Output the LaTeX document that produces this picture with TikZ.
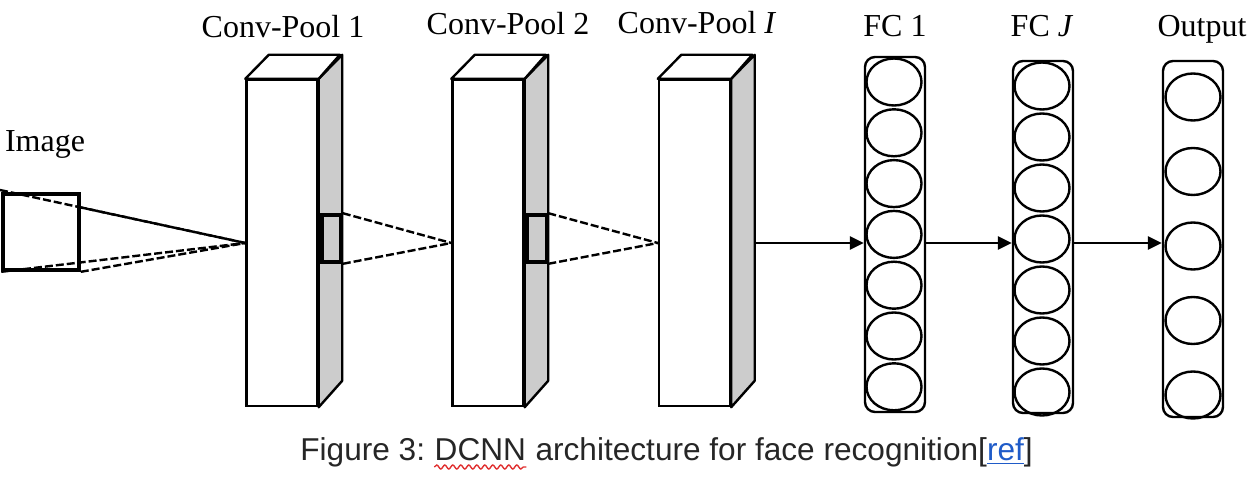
\documentclass[tikz,border=0pt]{standalone}
\usepackage{fontspec}
\setmainfont{Liberation Serif}
\newfontfamily\capfont{Liberation Sans}
\usetikzlibrary{positioning,calc,arrows.meta,shapes.geometric,decorations.pathmorphing}

\definecolor{capgray}{HTML}{262626}
\definecolor{linkblue}{HTML}{1F5BC8}
\definecolor{spellred}{HTML}{E03030}

\tikzset{
  face/.style={draw,line width=1.2pt,fill=white,minimum width=35.5pt,minimum height=163pt,inner sep=0pt},
  sideface/.style={draw,line width=1.2pt,fill=gray!40,line join=round},
  topface/.style={draw,line width=1.2pt,fill=white,line join=round},
  patch/.style={draw,line width=1.8pt,fill=gray!40,minimum width=9.5pt,minimum height=23.5pt,inner sep=0pt},
  imgbox/.style={draw,line width=1.8pt,minimum size=38pt,inner sep=0pt},
  rf/.style={line width=1.2pt,dash pattern=on 4pt off 1.5pt},%receptive field lines
  layer/.style={draw,line width=1.2pt,rounded corners=5pt,minimum width=30pt,inner sep=0pt},
  neuron/.style={ellipse,draw,line width=1.2pt,minimum width=27.5pt,minimum height=23.5pt,inner sep=0pt},
  conn/.style={line width=1.2pt,-{Triangle[length=7pt,width=6.5pt]}},
  lab/.style={font=\fontsize{16}{19}\selectfont,inner sep=0pt,anchor=base},
  captext/.style={font=\capfont\fontsize{15.8}{18}\selectfont,text=capgray,inner sep=0pt,anchor=base west}
}

\begin{document}
\begin{tikzpicture}[x=0.5pt,y=-0.5pt]
\useasboundingbox (0,0) rectangle (1258,486);

% input image
\node[imgbox] (img) at (41,232) {};
\node[lab] (img-lab) at (45,152) {Image};
\coordinate (img-tl) at (0,190);
\coordinate (img-tr) at (79,207);

% conv-pool blocks
\foreach \n/\x/\lx/\ly/\t in {cp1/282/283/38/{Conv-Pool 1},cp2/488/508/35/{Conv-Pool 2},cp3/694.5/697/34/{Conv-Pool \textit{I}}}{
  \node[face] (\n) at (\x,243) {};
  \draw[sideface] (\n.north east) -- ++(23.5,-24) -- ++(0,326) -- (\n.south east) -- cycle;
  \draw[topface] (\n.north west) -- ++(23.5,-24) -- ++(71,0) -- (\n.north east) -- cycle;
  \coordinate (\n-out) at ($(\n.east)+(23.5,0)$);
  \node[lab] (\n-lab) at (\lx,\ly) {\t};
}

% receptive fields
\node[patch] (p1) at (331.5,238.5) {};
\node[patch] (p2) at (537,238.5) {};
\foreach \s in {img-tl,img-tr,img.south west,img.south east}
  \draw[rf] (\s) -- (cp1.west);
\draw[rf] (p1.north east) -- (cp2.west);
\draw[rf] (p1.south east) -- (cp2.west);
\draw[rf] (p2.north east) -- (cp3.west);
\draw[rf] (p2.south east) -- (cp3.west);

% fully connected layers
\node[layer,minimum height=177.5pt] (fc1) at (895,234.5) {};
\foreach \i in {0,...,6} \node[neuron] (fc1-\i) at (894,{82+50.8*\i}) {};
\node[lab] (fc1-lab) at (895,37) {FC 1};

\node[layer,minimum height=176pt] (fcj) at (1043,237) {};
\foreach \i in {0,...,6} \node[neuron] (fcj-\i) at (1042,{86+51*\i}) {};
\node[lab] (fcj-lab) at (1042,37) {FC \textit{J}};

\node[layer,minimum height=178pt] (out) at (1193,239) {};
\foreach \i in {0,...,4} \node[neuron] (out-\i) at (1193,{97+74.5*\i}) {};
\node[lab] (out-lab) at (1202,37) {Output};

\draw[conn] (cp3-out) -- (cp3-out -| fc1.west);
\draw[conn] (fc1.east |- cp3-out) -- (fcj.west |- cp3-out);
\draw[conn] (fcj.east |- cp3-out) -- (out.west |- cp3-out);

% caption
\node[captext] (cap-a) at (300,460) {Figure 3:};
\node[captext] (cap-b) at ([xshift=4.4pt]cap-a.base east) {DCNN};
\node[captext] (cap-c) at ([xshift=4.4pt]cap-b.base east) {architecture for face recognition[\textcolor{linkblue}{\underline{ref}}]};
\draw[spellred,line width=0.7pt,decorate,decoration={snake,amplitude=1pt,segment length=4pt}]
  ([yshift=-3.5pt]cap-b.base west) -- ([yshift=-3.5pt]cap-b.base east);
\end{tikzpicture}
\end{document}
